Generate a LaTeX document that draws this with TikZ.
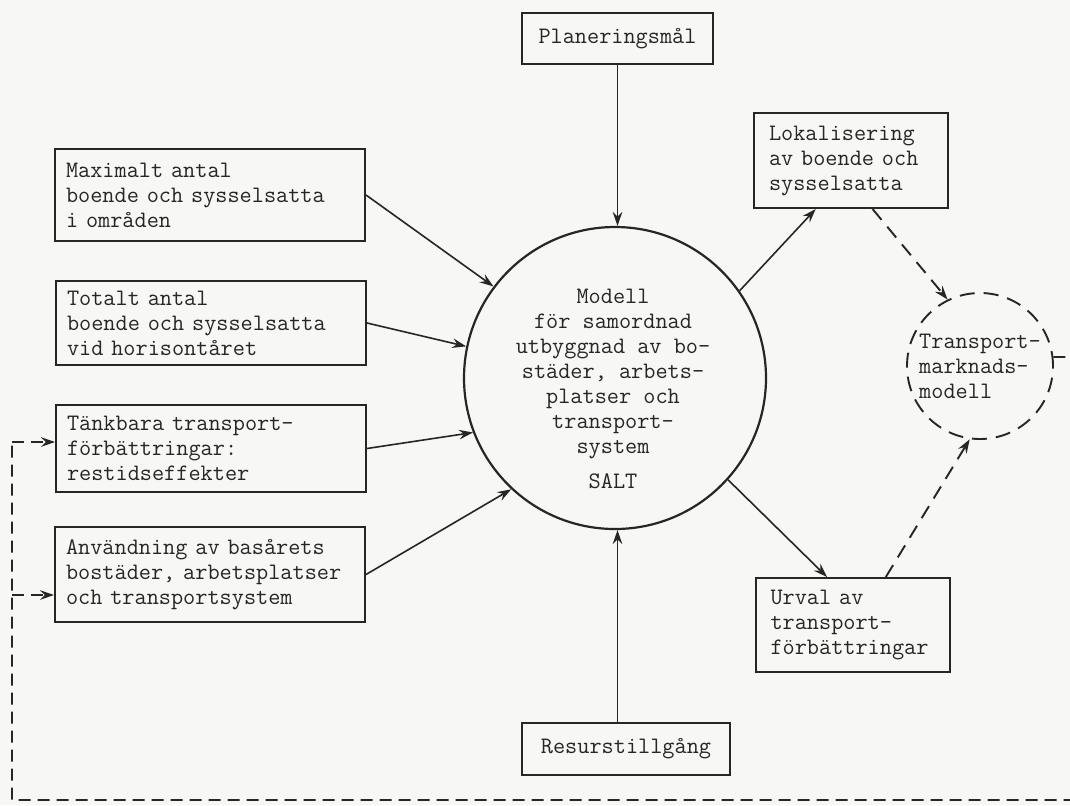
\documentclass[tikz,border=0pt]{standalone}
\usetikzlibrary{arrows.meta,calc}
\newcommand\typefont{\ttfamily\fontsize{11.8pt}{12.5pt}\selectfont}
\definecolor{paper}{RGB}{247,247,245}
\definecolor{ink}{RGB}{38,38,38}
\begin{document}
\begin{tikzpicture}[x=0.5pt,y=-0.5pt,
  txt/.style={font=\typefont, text=ink},
  box/.style={draw=ink, line width=1pt, txt, inner ysep=0pt},
  lbox/.style={box, inner xsep=5.5pt, text width=144pt, align=left},
  rbox/.style={box, inner xsep=7.5pt, text width=82pt, align=left},
  sbox/.style={box, align=center},
  tip/.style={-{Stealth[length=7pt,width=4.8pt,inset=2.4pt]}},
  link/.style={draw=ink, line width=0.8pt, tip},
  dlink/.style={draw=ink, line width=0.95pt, dash pattern=on 7pt off 4.5pt, tip},
  fb/.style={draw=ink, line width=0.85pt, dash pattern=on 6pt off 3.5pt},
]
\path[use as bounding box, fill=paper] (0,0) rectangle (1070,805);
\clip (0,0) rectangle (1070,805);

% input boxes on the left
\node[lbox, minimum height=46pt]   (b1) at (210,195)   {Maximalt antal\\boende och sysselsatta\\i områden};
\node[lbox, minimum height=42pt]   (b2) at (211,323)   {Totalt antal\\boende och sysselsatta\\vid horisontåret};
\node[lbox, minimum height=43.5pt] (b3) at (211,448.5) {Tänkbara transport-\\förbättringar:\\restidseffekter};
\node[lbox, minimum height=47.5pt] (b4) at (210,574.5) {Användning av basårets\\bostäder, arbetsplatser\\och transportsystem};

% goals and resources
\node[sbox, minimum width=95.5pt, minimum height=25.5pt] (P) at (617.5,38.5) {Planeringsmål};
\node[sbox, minimum width=104pt, minimum height=26pt]    (R) at (626,749)    {Resurstillgång};

% central model
\node[draw=ink, line width=1.1pt, circle, inner sep=0pt, minimum size=151pt] (C) at (615,378) {};
\node[txt, align=center] (Ct) at (613,389) {Modell\\för samordnad\\utbyggnad av bo-\\städer, arbets-\\platser och\\transport-\\system\\[5pt]SALT};

% outputs
\node[rbox, minimum height=47.5pt] (Loc) at (851,160.5) {Lokalisering\\av boende och\\sysselsatta};
\node[rbox, minimum height=47pt]   (Urv) at (852.5,625) {Urval av\\transport-\\förbättringar};

% transport market model
\node[draw=ink, line width=0.95pt, dash pattern=on 7.5pt off 4.5pt, circle, inner sep=0pt,
      minimum size=73pt, txt, align=left] (T) at (980,366) {Transport-\\marknads-\\modell};

% inputs into the model
\draw[link] (b1.east) -- (C.143.5);
\draw[link] (b2.east) -- (C.168.8);
\draw[link] (b3.east) -- (C.201.2);
\draw[link] (b4.east) -- (C.227.2);
\draw[link] (P.south) -- (P.south |- C.north);
\draw[link] (R.north -| P.south) -- (P.south |- C.south);

% model outputs
\coordinate (locIn)  at ($(Loc.south west)!0.32!(Loc.south east)$);
\coordinate (locOut) at ($(Loc.south west)!0.61!(Loc.south east)$);
\coordinate (urvIn)  at ($(Urv.north west)!0.37!(Urv.north east)$);
\coordinate (urvOut) at ($(Urv.north west)!0.67!(Urv.north east)$);
\draw[link] (C.35.5) -- (locIn);
\draw[link] (C.318) -- (urvIn);
\draw[dlink] (locOut) -- (T.116);
\draw[dlink] (urvOut) -- (T.262);

% feedback loop back to the inputs
\coordinate (fbA) at (1090,357);
\coordinate (fbB) at (1090,800);
\coordinate (fbC) at (12,800);
\coordinate (fbD) at (12,442);
\coordinate (fbE) at (12,595);
\draw[fb] (T.7) -- (fbA) -- (fbB) -- (fbC) -- (fbD);
\draw[fb, tip] (fbD) -- (fbD -| b3.west);
\draw[fb, tip] (fbE) -- (fbE -| b4.west);
\end{tikzpicture}
\end{document}
